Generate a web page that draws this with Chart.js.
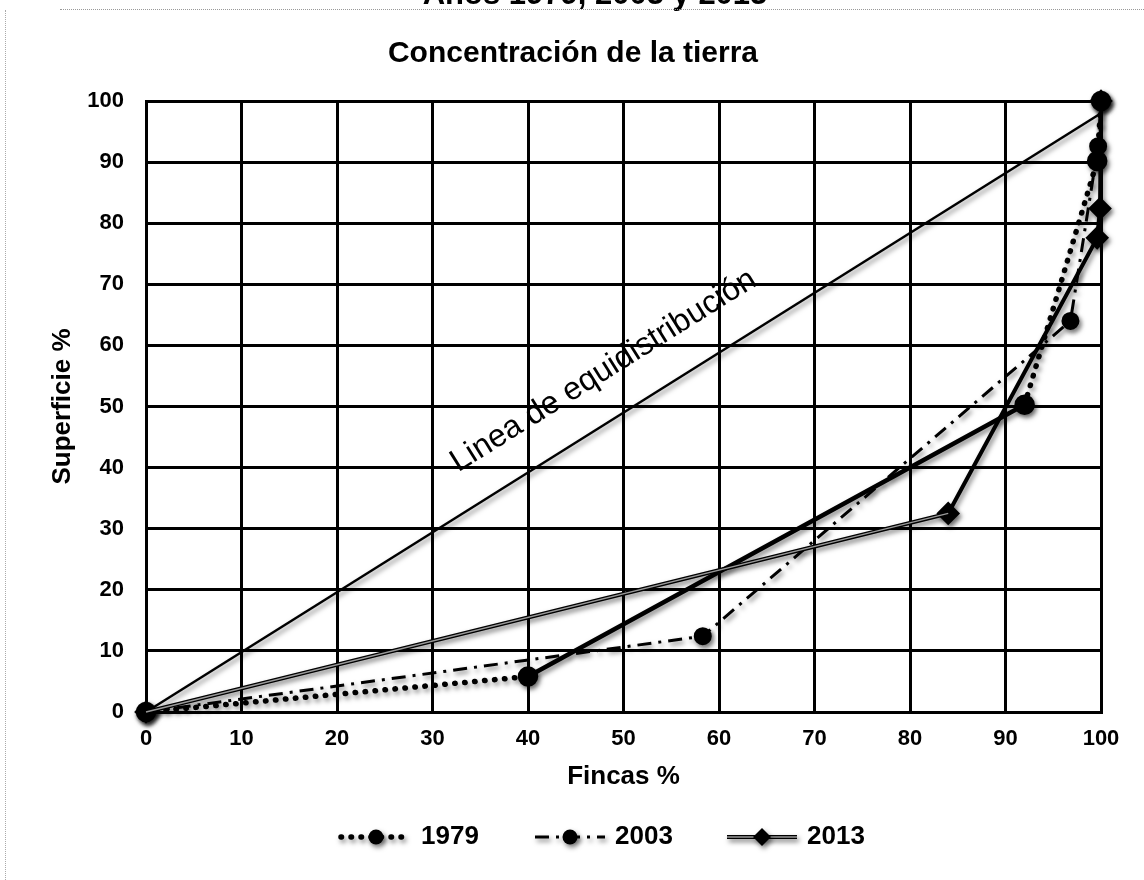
<!DOCTYPE html>
<html lang="es">
<head>
<meta charset="utf-8">
<title>Concentración de la tierra</title>
<script src="https://cdn.jsdelivr.net/npm/chart.js@4.4.1/dist/chart.umd.min.js"></script>
<style>
  html, body { margin: 0; padding: 0; background: #fff; }
  #marco { position: relative; width: 1144px; height: 880px; overflow: hidden; }
  #marco canvas { position: absolute; left: 0; top: 0; }
  .borde-sup { position: absolute; left: 60px; right: 0; top: 9px; border-top: 1px dotted #999; }
  .borde-izq { position: absolute; left: 5px; top: 10px; bottom: 0; border-left: 1px dotted #aaa; }
</style>
</head>
<body>
<div id="marco">
  <canvas id="grafico" width="1144" height="880"></canvas>
  <div class="borde-sup"></div>
  <div class="borde-izq"></div>
</div>
<script>
// ---------------- DATOS ----------------
const anios = ["1979", "2003", "2013"];

const fincas1979 = [0, 40, 92, 99.6, 100];
const sup1979    = [0, 5.8, 50.3, 90.2, 100];

const fincas2003 = [0, 58.3, 96.8, 99.7, 100];
const sup2003    = [0, 12.4, 64, 92.6, 100];

const fincas2013 = [0, 84, 99.6, 99.9, 100];
const sup2013    = [0, 32.5, 77.6, 82.4, 100];

const equiFincas = [0, 100];
const equiSup    = [0, 98];

const marcas = [0, 10, 20, 30, 40, 50, 60, 70, 80, 90, 100];

const titulo = "Concentración de la tierra";
const subtitulo = "Años 1979, 2003 y 2013";
const etiquetaEqui = "Linea de equidistribución";
const tituloX = "Fincas %";
const tituloY = "Superficie %";

const FUENTE = '"Liberation Sans", Arial, Helvetica, sans-serif';
Chart.defaults.font.family = FUENTE;
Chart.defaults.color = "#000";

function puntos(xs, ys) {
  return xs.map((x, i) => ({ x: x, y: ys[i] }));
}

// ---------------- ESTILOS DE SERIE ----------------
const estilo1979 = { ancho: 5.5, guion: [0.5, 9.5], cap: "round", marca: "circle", radio: 7.5 };
const estilo2003 = { ancho: 3, guion: [14, 7, 3, 7], cap: "butt", marca: "circle", radio: 7.5 };
const estilo2013 = { ancho: 4, guion: [], cap: "butt", marca: "rectRot", radio: 9 };
const estilos = [estilo1979, estilo2003, estilo2013];

// sombra gris tipo excel
function ponerSombra(ctx) {
  ctx.shadowColor = "rgba(0,0,0,0.5)";
  ctx.shadowBlur = 5;
  ctx.shadowOffsetX = 2;
  ctx.shadowOffsetY = 3;
}

const pluginSombra = {
  id: "sombra",
  beforeDatasetDraw(chart, args) {
    const ds = chart.data.datasets[args.index];
    chart.ctx.save();
    if (ds.sombra !== false) ponerSombra(chart.ctx);
  },
  afterDatasetDraw(chart) {
    chart.ctx.restore();
  }
};

// ---------------- TEXTOS EXTRA + LEYENDA ----------------
function dibujarMarca(ctx, tipo, r, x, y) {
  ctx.fillStyle = "#000";
  ctx.beginPath();
  if (tipo === "rectRot") {
    ctx.moveTo(x, y - r); ctx.lineTo(x + r, y); ctx.lineTo(x, y + r); ctx.lineTo(x - r, y);
    ctx.closePath();
  } else {
    ctx.arc(x, y, r, 0, Math.PI * 2);
  }
  ctx.fill();
}

const pluginExtra = {
  id: "extra",
  afterDatasetsDraw(chart) {
    const ctx = chart.ctx;
    const sx = chart.scales.x, sy = chart.scales.y;

    // etiqueta de la linea de equidistribucion
    const x0 = sx.getPixelForValue(equiFincas[0]), y0 = sy.getPixelForValue(equiSup[0]);
    const x1 = sx.getPixelForValue(equiFincas[1]), y1 = sy.getPixelForValue(equiSup[1]);
    const ang = Math.atan2(y1 - y0, x1 - x0);
    ctx.save();
    ctx.translate(sx.getPixelForValue(32.7), sy.getPixelForValue(39.2));
    ctx.rotate(ang);
    ctx.font = "32px " + FUENTE;
    ctx.fillStyle = "#000";
    ctx.textAlign = "left";
    ctx.textBaseline = "alphabetic";
    ctx.fillText(etiquetaEqui, 0, 0);
    ctx.restore();
  },
  afterDraw(chart) {
    const ctx = chart.ctx;

    ctx.save();
    ctx.fillStyle = "#000";
    ctx.textAlign = "center";
    // titulo superior cortado por el escaneo
    ctx.font = "bold 31px " + FUENTE;
    ctx.textBaseline = "alphabetic";
    ctx.fillText(subtitulo, 595, 4);
    // titulo principal
    ctx.font = "bold 30px " + FUENTE;
    ctx.textBaseline = "middle";
    ctx.fillText(titulo, 573, 54);
    ctx.restore();

    // leyenda
    const yLey = 837;
    const inicio = [341, 535, 727];
    const anchoMuestra = 70;
    anios.forEach((a, i) => {
      const e = estilos[i];
      const x = inicio[i];
      ctx.save();
      ponerSombra(ctx);
      ctx.strokeStyle = "#000";
      ctx.lineWidth = e.ancho;
      ctx.lineCap = e.cap;
      ctx.setLineDash(e.guion);
      ctx.beginPath();
      ctx.moveTo(x, yLey);
      ctx.lineTo(x + anchoMuestra, yLey);
      ctx.stroke();
      if (i === 2) {
        ctx.shadowColor = "transparent";
        ctx.strokeStyle = "#9a9a9a";
        ctx.lineWidth = 1.3;
        ctx.beginPath();
        ctx.moveTo(x, yLey);
        ctx.lineTo(x + anchoMuestra, yLey);
        ctx.stroke();
        ponerSombra(ctx);
      }
      ctx.setLineDash([]);
      dibujarMarca(ctx, e.marca, e.radio, x + anchoMuestra / 2, yLey);
      ctx.restore();

      ctx.save();
      ctx.font = "bold 26px " + FUENTE;
      ctx.fillStyle = "#000";
      ctx.textAlign = "left";
      ctx.textBaseline = "middle";
      ctx.fillText(a, x + anchoMuestra + 10, yLey);
      ctx.restore();
    });
  }
};

// ---------------- GRAFICO ----------------
new Chart(document.getElementById("grafico"), {
  type: "line",
  data: {
    datasets: [
      {
        label: "equidistribucion",
        data: puntos(equiFincas, equiSup),
        borderColor: "#000",
        borderWidth: 2.5,
        pointRadius: 0,
        clip: false,
        order: 5
      },
      {
        label: anios[0],
        data: puntos(fincas1979, sup1979),
        borderColor: "#000",
        borderWidth: estilo1979.ancho,
        borderDash: estilo1979.guion,
        borderCapStyle: estilo1979.cap,
        segment: {
          borderDash: c => c.p0DataIndex === 1 ? [] : estilo1979.guion,
          borderWidth: c => c.p0DataIndex === 1 ? 4.5 : estilo1979.ancho
        },
        pointStyle: estilo1979.marca,
        pointRadius: estilo1979.radio,
        pointBackgroundColor: "#000",
        pointBorderColor: "#000",
        clip: false,
        order: 2
      },
      {
        label: anios[1],
        data: puntos(fincas2003, sup2003),
        borderColor: "#000",
        borderWidth: estilo2003.ancho,
        borderDash: estilo2003.guion,
        pointStyle: estilo2003.marca,
        pointRadius: estilo2003.radio,
        pointBackgroundColor: "#000",
        pointBorderColor: "#000",
        clip: false,
        order: 3
      },
      {
        label: anios[2],
        data: puntos(fincas2013, sup2013),
        borderColor: "#000",
        borderWidth: estilo2013.ancho,
        pointStyle: estilo2013.marca,
        pointRadius: estilo2013.radio,
        pointBackgroundColor: "#000",
        pointBorderColor: "#000",
        clip: false,
        order: 1
      },
      {
        // centro gris de la linea doble de 2013
        label: anios[2] + " centro",
        data: puntos(fincas2013, sup2013),
        borderColor: "#9a9a9a",
        borderWidth: 1.3,
        pointRadius: 0,
        sombra: false,
        clip: false,
        segment: {
          borderColor: c => c.p0DataIndex === 0 ? "#9a9a9a" : "rgba(0,0,0,0)"
        },
        order: 0
      }
    ]
  },
  options: {
    responsive: false,
    devicePixelRatio: 1,
    animation: false,
    events: [],
    layout: { padding: { left: 0, right: 43, top: 101, bottom: 88 } },
    plugins: {
      legend: { display: false },
      tooltip: { enabled: false },
      title: { display: false }
    },
    scales: {
      x: {
        type: "linear",
        min: 0,
        max: 100,
        afterBuildTicks: s => { s.ticks = marcas.map(v => ({ value: v })); },
        afterFit: s => { s.height = 80; },
        grid: { color: "#000", lineWidth: 3, drawTicks: false },
        border: { color: "#000", width: 3 },
        ticks: { font: { size: 22, weight: "bold" }, color: "#000", padding: 14, maxRotation: 0 },
        title: {
          display: true,
          text: tituloX,
          font: { size: 26, weight: "bold" },
          color: "#000",
          padding: { top: 0, bottom: 0 }
        }
      },
      y: {
        type: "linear",
        min: 0,
        max: 100,
        afterBuildTicks: s => { s.ticks = marcas.map(v => ({ value: v })); },
        afterFit: s => { s.width = 146; },
        grid: { color: "#000", lineWidth: 3, drawTicks: false },
        border: { color: "#000", width: 3 },
        ticks: { font: { size: 22, weight: "bold" }, color: "#000", padding: 22 },
        title: {
          display: true,
          text: tituloY,
          font: { size: 26, weight: "bold" },
          color: "#000",
          padding: { top: 47, bottom: 0 }
        }
      }
    }
  },
  plugins: [pluginSombra, pluginExtra]
});
</script>
</body>
</html>
